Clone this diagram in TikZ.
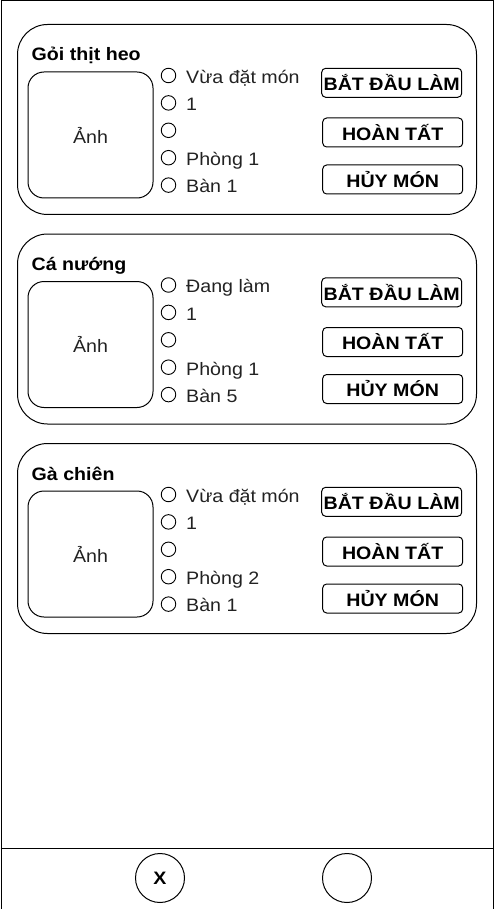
\documentclass[tikz,border=0pt]{standalone}
\usepackage{fontspec}
\setmainfont{Liberation Sans}[FakeStretch=1.09]
\definecolor{txt}{HTML}{222222}
\newcommand\fs{\fontsize{18}{20}\selectfont}
\newcommand\bfs{\fontsize{18}{20}\selectfont\bfseries}
\tikzset{
  card/.style={draw, rounded corners=30pt, line width=1pt, inner sep=0pt, anchor=north west, minimum width=459pt, minimum height=190pt},
  photo/.style={draw, rounded corners=16pt, line width=1pt, inner sep=0pt, minimum width=125pt, minimum height=126pt, text=txt, font=\fs},
  radio/.style={draw, circle, line width=0.9pt, minimum size=14.5pt, inner sep=0pt},
  item/.style={anchor=base west, inner sep=0pt, text=txt, font=\fs},
  ttl/.style={anchor=base west, inner sep=0pt, font=\bfs},
  btn/.style={draw, rounded corners=4pt, line width=1pt, minimum width=140pt, minimum height=29pt, inner sep=0pt, font=\bfs},
  roundbtn/.style={draw, circle, line width=1pt, minimum size=49pt, inner sep=0pt, font=\bfs},
}
\newcommand\mycard[6]{%
  \begin{scope}[shift={(0,#1)}]
    \node[card] (#2card) at (17,24) {};
    \node[ttl] (#2title) at (31.5,61) {#3};
    \node[photo] (#2photo) at (90.5,135) {Ảnh};
    \node[radio] (#2r1) at (168.5,75.5) {};
    \node[radio] (#2r2) at (168.5,102.9) {};
    \node[radio] (#2r3) at (168.5,130.3) {};
    \node[radio] (#2r4) at (168.5,157.7) {};
    \node[radio] (#2r5) at (168.5,185.1) {};
    \node[item] (#2t1) at (186,83.3) {#4};
    \node[item] (#2t2) at (186,110.7) {1};
    \node[item] (#2t4) at (186,165.5) {#5};
    \node[item] (#2t5) at (186,192.9) {#6};
    \node[btn] (#2b1) at (391.7,82.8) {BẮT ĐẦU LÀM};
    \node[btn] (#2b2) at (392.7,132.5) {HOÀN TẤT};
    \node[btn] (#2b3) at (392.7,179.5) {HỦY MÓN};
  \end{scope}}
\begin{document}
\begin{tikzpicture}[x=1pt,y=-1pt]
  \useasboundingbox (0,0) rectangle (493,909);
  \node[draw, line width=1pt, inner sep=0pt, anchor=north west, minimum width=492pt, minimum height=908pt] (frame) at (0.5,0.5) {};
  \mycard{0}{a}{Gỏi thịt heo}{Vừa đặt món}{Phòng 1}{Bàn 1}
  \mycard{209.5}{b}{Cá nướng}{Đang làm}{Phòng 1}{Bàn 5}
  \mycard{419}{c}{Gà chiên}{Vừa đặt món}{Phòng 2}{Bàn 1}
  \coordinate (barl) at (0.5,848);
  \coordinate (barr) at (492.5,848);
  \draw[line width=1pt] (barl) -- (barr);
  \node[roundbtn] (closebtn) at (160,878) {X};
  \node[roundbtn] (okbtn) at (347,878) {};
\end{tikzpicture}
\end{document}
